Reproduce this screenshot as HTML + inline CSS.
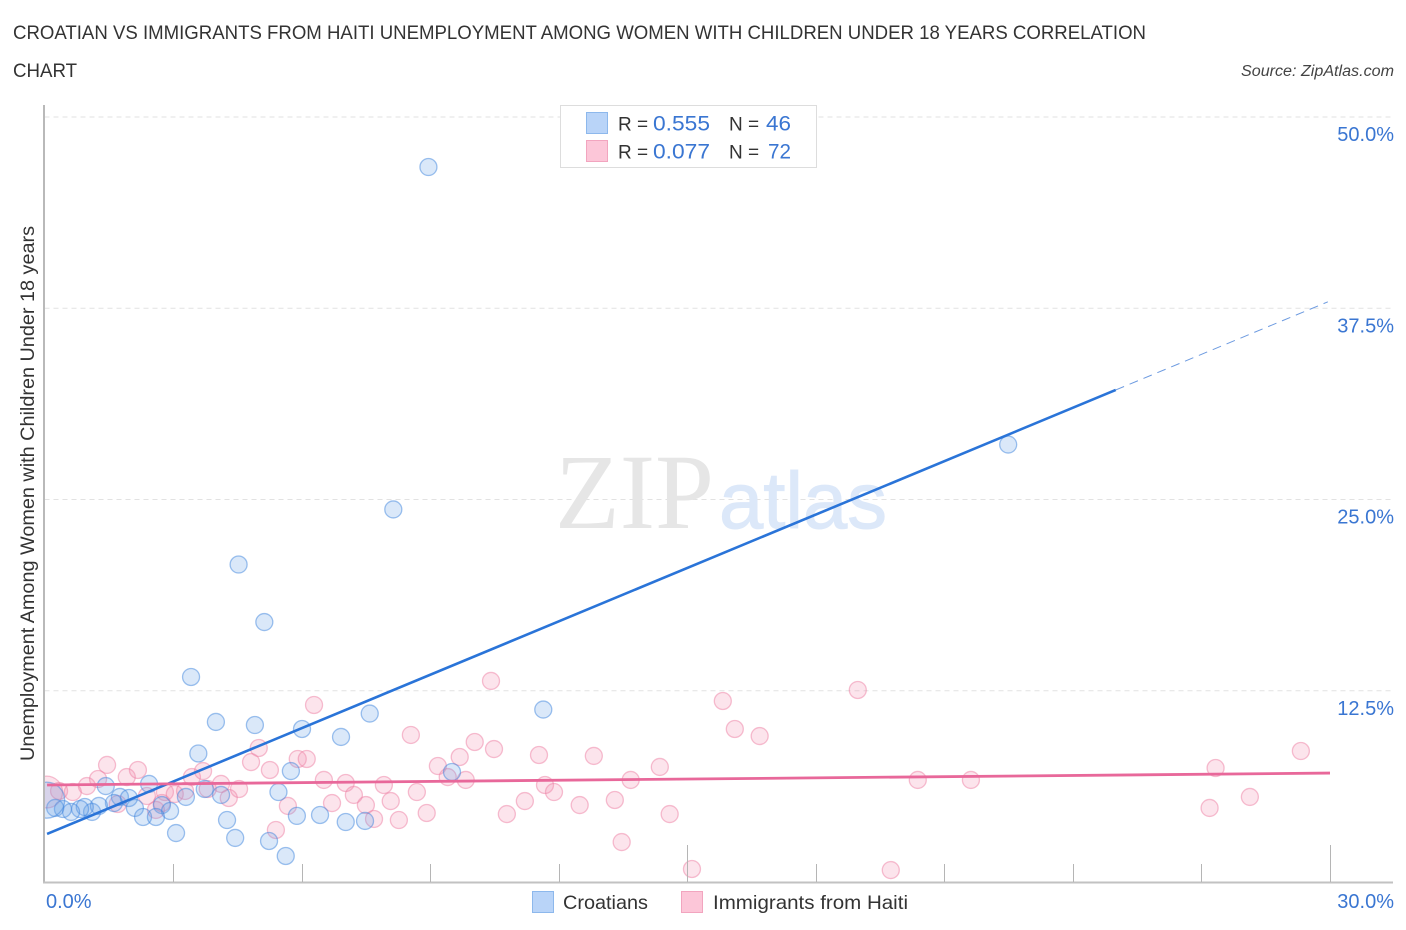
<!DOCTYPE html>
<html lang="en">
<head>
<meta charset="utf-8">
<title>Croatian vs Immigrants from Haiti Unemployment Correlation Chart</title>
<style>
html,body{margin:0;padding:0;background:#fff;}
body{width:1406px;height:930px;overflow:hidden;font-family:"Liberation Sans",sans-serif;}
svg{display:block;}
text{font-family:"Liberation Sans",sans-serif;}
</style>
</head>
<body>
<svg id="chart" xmlns="http://www.w3.org/2000/svg" width="1406" height="930" viewBox="0 0 1406 930">
  <text x="13" y="39" font-size="19.5" fill="#333" textLength="1133" lengthAdjust="spacingAndGlyphs">CROATIAN VS IMMIGRANTS FROM HAITI UNEMPLOYMENT AMONG WOMEN WITH CHILDREN UNDER 18 YEARS CORRELATION</text>
  <text x="13" y="77" font-size="19.5" fill="#333" textLength="64" lengthAdjust="spacingAndGlyphs">CHART</text>
  <text x="1394" y="76" font-size="15.5" font-style="italic" fill="#444" text-anchor="end" textLength="153" lengthAdjust="spacingAndGlyphs">Source: ZipAtlas.com</text>

  <g id="grid"></g>

  <g>
    <text x="555" y="528" font-size="107" fill="#e6e6e6" textLength="159" lengthAdjust="spacingAndGlyphs" style="font-family:'Liberation Serif',serif">ZIP</text>
    <text x="719" y="528" font-size="80" fill="#dce8f9" stroke="#dce8f9" stroke-width="1" textLength="168" lengthAdjust="spacingAndGlyphs">atlas</text>
  </g>

  <g id="points"></g>
  <rect x="0" y="700" width="44" height="200" fill="#fff"></rect>
  <g id="axes"></g>
  <g id="trends"></g>
  <g id="tick-labels"></g>

  <text transform="translate(34,493.5) rotate(-90)" font-size="19" fill="#333" text-anchor="middle" textLength="535" lengthAdjust="spacingAndGlyphs">Unemployment Among Women with Children Under 18 years</text>

  <g>
    <rect x="560.5" y="105.5" width="256" height="62" fill="#fff" stroke="#ddd" stroke-width="1"></rect>
    <rect x="586.5" y="112.5" width="21" height="21" fill="#b9d4f8" stroke="#8db8ec" stroke-width="1"></rect>
    <rect x="586.5" y="140.5" width="21" height="21" fill="#fcc6d8" stroke="#f2a5bf" stroke-width="1"></rect>
    <text x="618" y="130.5" font-size="19" fill="#333">R =</text>
    <text x="653" y="130.5" font-size="21" fill="#3a76d2" textLength="57" lengthAdjust="spacingAndGlyphs">0.555</text>
    <text x="729" y="130.5" font-size="19" fill="#333">N =</text>
    <text x="766" y="130.5" font-size="21" fill="#3a76d2" textLength="25" lengthAdjust="spacingAndGlyphs">46</text>
    <text x="618" y="158.5" font-size="19" fill="#333">R =</text>
    <text x="653" y="158.5" font-size="21" fill="#3a76d2" textLength="57" lengthAdjust="spacingAndGlyphs">0.077</text>
    <text x="729" y="158.5" font-size="19" fill="#333">N =</text>
    <text x="768" y="158.5" font-size="21" fill="#3a76d2" textLength="23" lengthAdjust="spacingAndGlyphs">72</text>
  </g>

  <g>
    <rect x="532.5" y="891.5" width="21" height="21" fill="#b9d4f8" stroke="#8db8ec" stroke-width="1"></rect>
    <text x="563" y="909" font-size="19.5" fill="#333" textLength="85" lengthAdjust="spacingAndGlyphs">Croatians</text>
    <rect x="681.5" y="891.5" width="21" height="21" fill="#fcc6d8" stroke="#f2a5bf" stroke-width="1"></rect>
    <text x="713" y="909" font-size="19.5" fill="#333" textLength="195" lengthAdjust="spacingAndGlyphs">Immigrants from Haiti</text>
  </g>
</svg>

<script>
const xTickValues = [3, 6, 9, 12, 15, 18, 21, 24, 27, 30];
const xMajorTicks = [15, 30];
const yGridValues = [12.5, 25, 37.5, 50];
const yTickLabels = ["12.5%", "25.0%", "37.5%", "50.0%"];
const xEdgeValues = [0, 30];
const xEdgeLabels = ["0.0%", "30.0%"];

const croatianX = [8.96,22.49,8.14,4.53,5.13,3.42,11.64,7.59,4.00,4.91,6.01,6.92,3.59,5.75,9.51,2.44,1.43,3.74,4.12,5.46,3.30,1.76,1.97,2.74,1.62,2.11,2.93,2.30,2.60,1.11,1.27,0.94,0.83,0.62,0.43,0.25,5.89,6.43,4.26,7.03,7.48,3.07,4.45,5.24,5.63,0.05];
const croatianY = [46.73,28.59,24.35,20.75,16.99,13.40,11.27,11.01,10.46,10.26,10.00,9.48,8.40,7.25,7.19,6.41,6.27,6.08,5.69,5.88,5.56,5.56,5.49,5.03,5.16,4.84,4.64,4.25,4.25,4.58,4.97,4.90,4.77,4.58,4.77,4.84,4.32,4.38,4.05,3.92,3.99,3.20,2.88,2.68,1.70,5.35];
const croatianWeights = [1,1,1,1,1,1,1,1,1,1,1,1,1,1,1,1,1,1,1,1,1,1,1,1,1,1,1,1,1,1,1,1,1,1,1,1,1,1,1,1,1,1,1,1,1,4.5];

const haitiX = [1.46,1.25,0.99,1.92,2.18,0.34,0.66,0.05,1.71,2.39,2.60,2.74,2.81,3.04,3.28,3.44,3.70,3.81,4.12,4.30,4.54,4.82,5.00,5.26,5.68,5.40,5.91,6.12,6.29,6.52,6.71,7.03,7.22,7.50,7.69,7.92,8.08,8.27,8.55,8.69,8.92,9.18,9.41,9.69,9.83,10.04,10.42,10.49,10.79,11.21,11.54,11.68,11.89,12.49,12.82,13.31,13.47,13.68,14.36,14.59,15.11,15.83,16.11,16.69,18.98,19.75,20.38,21.62,27.19,27.33,28.13,29.32];
const haitiY = [7.65,6.73,6.27,6.86,7.32,5.95,5.88,5.88,5.10,5.62,4.71,5.16,5.88,5.75,5.95,6.86,7.25,6.08,6.41,5.49,6.08,7.84,8.76,7.32,4.97,3.40,8.04,8.04,11.57,6.67,5.16,6.47,5.69,5.03,4.12,6.34,5.29,4.05,9.61,5.88,4.51,7.58,6.86,8.17,6.67,9.15,13.14,8.69,4.44,5.29,8.30,6.34,5.88,5.03,8.24,5.36,2.61,6.67,7.52,4.44,0.85,11.83,10.00,9.54,12.55,0.78,6.67,6.67,4.84,7.45,5.56,8.56];
const haitiWeights = [1,1,1,1,1,1,1,3.5,1,1,1,1,1,1,1,1,1,1,1,1,1,1,1,1,1,1,1,1,1,1,1,1,1,1,1,1,1,1,1,1,1,1,1,1,1,1,1,1,1,1,1,1,1,1,1,1,1,1,1,1,1,1,1,1,1,1,1,1,1,1,1,1];

const croatianTrendX = [0.06, 25.0];
const croatianTrendY = [3.14, 32.16];
const croatianForecastX = [25.0, 29.95];
const croatianForecastY = [32.16, 37.92];
const haitiTrendX = [0.06, 30.0];
const haitiTrendY = [6.34, 7.12];

const plotLeft = 44.5, plotRight = 1330, plotBottom = 882, plotTop50 = 117, plotEnd = 1393;
function xScale(v) { return plotLeft + v * (plotRight - plotLeft) / 30; }
function yScale(v) { return plotBottom - v * (plotBottom - plotTop50) / 50; }

const NS = 'http://www.w3.org/2000/svg';
function make(tag, parent, attrs) {
  const el = document.createElementNS(NS, tag);
  for (const k in attrs) el.setAttribute(k, attrs[k]);
  parent.appendChild(el);
  return el;
}

const gridG = document.getElementById('grid');
yGridValues.forEach(function (v) {
  const el = make('line', gridG, {x1: plotLeft, x2: plotEnd, y1: yScale(v), y2: yScale(v), stroke: '#e2e2e2', 'stroke-width': 1, 'stroke-dasharray': '5 4'});
  
  
});

const axesG = document.getElementById('axes');
const yAxisLine = make('line', axesG, {x1: 44, x2: 44, y1: 105, y2: 883, stroke: '#b9b9b9', 'stroke-width': 2});


const xAxisLine = make('line', axesG, {x1: 43, x2: plotEnd, y1: 882.5, y2: 882.5, stroke: '#c2c2c2', 'stroke-width': 2});


xTickValues.forEach(function (v) {
  const top = xMajorTicks.indexOf(v) >= 0 ? 845 : 864;
  const px = Math.round(xScale(v)) + 0.5;
  const el = make('line', axesG, {x1: px, x2: px, y1: top, y2: 882, stroke: '#b5b5b5', 'stroke-width': 1});
  
  
});

const pointsG = document.getElementById('points');
function drawSeries(xs, ys, weights, fill, stroke, name) {
  xs.forEach(function (x, i) {
    const el = make('circle', pointsG, {
      cx: xScale(x), cy: yScale(ys[i]), r: 8.5 * Math.sqrt(weights[i]),
      fill: fill, 'fill-opacity': 0.24, stroke: stroke, 'stroke-opacity': 0.5, 'stroke-width': 1.3
    });
    
    
  });
}
drawSeries(haitiX, haitiY, haitiWeights, '#f48fb1', '#ee7fa4', 'haiti-point');
drawSeries(croatianX, croatianY, croatianWeights, '#659fe8', '#3f86de', 'croatian-point');

const trendsG = document.getElementById('trends');
const croatianLine = make('line', trendsG, {x1: xScale(croatianTrendX[0]), y1: yScale(croatianTrendY[0]), x2: xScale(croatianTrendX[1]), y2: yScale(croatianTrendY[1]), stroke: '#2a74d8', 'stroke-width': 2.6});


const forecastLine = make('line', trendsG, {x1: xScale(croatianForecastX[0]), y1: yScale(croatianForecastY[0]), x2: xScale(croatianForecastX[1]), y2: yScale(croatianForecastY[1]), stroke: '#6c9ae0', 'stroke-width': 1, 'stroke-dasharray': '9 6'});


const haitiLine = make('line', trendsG, {x1: xScale(haitiTrendX[0]), y1: yScale(haitiTrendY[0]), x2: xScale(haitiTrendX[1]), y2: yScale(haitiTrendY[1]), stroke: '#e8689a', 'stroke-width': 2.8});



const labelsG = document.getElementById('tick-labels');
yGridValues.forEach(function (v, i) {
  const el = make('text', labelsG, {x: 1394, y: yScale(v) + 24, 'font-size': 20, fill: '#3a76d2', 'text-anchor': 'end'});
  el.textContent = yTickLabels[i];
  
  
});
xEdgeValues.forEach(function (v, i) {
  const el = make('text', labelsG, {x: i === 0 ? 46 : 1394, y: 908, 'font-size': 20, fill: '#3a76d2', 'text-anchor': i === 0 ? 'start' : 'end'});
  el.textContent = xEdgeLabels[i];
  
  
});
</script>
</body>
</html>
